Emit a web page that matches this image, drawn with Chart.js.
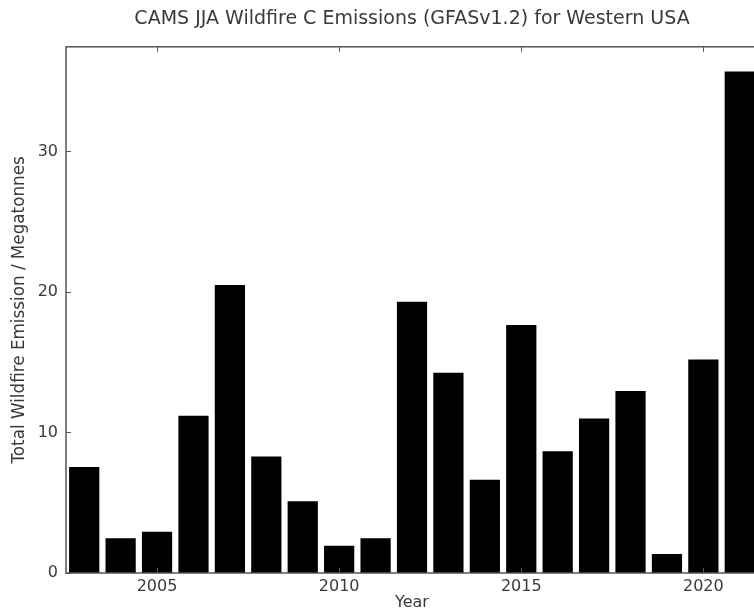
<!DOCTYPE html>
<html>
<head>
<meta charset="utf-8">
<script src="https://cdn.jsdelivr.net/npm/chart.js@4"></script>
<style>
  html, body { margin: 0; padding: 0; background: #fff; overflow: hidden; }
  #wrap { width: 824px; height: 612px; }
</style>
</head>
<body>
<div id="wrap"><canvas id="fireChart"></canvas></div>
<script>
(function () {
  "use strict";

  var years = ["2003", "2004", "2005", "2006", "2007", "2008", "2009", "2010", "2011", "2012",
               "2013", "2014", "2015", "2016", "2017", "2018", "2019", "2020", "2021"];
  var emissions = [7.55, 2.47, 2.94, 11.2, 20.5, 8.3, 5.1, 1.94, 2.47, 19.3,
                   14.25, 6.63, 17.65, 8.67, 11.0, 12.95, 1.35, 15.2, 35.7];
  var xTickYears = ["2005", "2010", "2015", "2020"];
  var yTicks = [0, 10, 20, 30];

  var TEXT = "#3a3a3a";
  var AXIS = "#555";

  // inward tick marks + box frame, like the original plot
  var framePlugin = {
    id: "frame",
    afterDatasetsDraw: function (chart) {
      var ctx = chart.ctx;
      var a = chart.chartArea;
      var xs = chart.scales.x;
      var ys = chart.scales.y;
      ctx.save();
      ctx.strokeStyle = AXIS;
      ctx.lineWidth = 1.5;
      ctx.strokeRect(a.left, a.top, a.right - a.left, a.bottom - a.top);
      ctx.lineWidth = 1;
      ctx.beginPath();
      yTicks.forEach(function (v) {
        var py = Math.round(ys.getPixelForValue(v)) + 0.5;
        ctx.moveTo(a.left, py);
        ctx.lineTo(a.left + 5, py);
      });
      xTickYears.forEach(function (yr) {
        var px = Math.round(xs.getPixelForValue(years.indexOf(yr))) + 0.5;
        ctx.moveTo(px, a.bottom);
        ctx.lineTo(px, a.bottom - 5);
        ctx.moveTo(px, a.top);
        ctx.lineTo(px, a.top + 5);
      });
      ctx.stroke();
      ctx.restore();
    }
  };

  new Chart(document.getElementById("fireChart").getContext("2d"), {
    type: "bar",
    data: {
      labels: years,
      datasets: [{
        data: emissions,
        backgroundColor: "#000",
        borderWidth: 0,
        barPercentage: 0.83,
        categoryPercentage: 1.0
      }]
    },
    options: {
      responsive: true,
      maintainAspectRatio: false,
      animation: false,
      layout: { padding: 0 },
      plugins: {
        legend: { display: false },
        tooltip: { enabled: false },
        title: {
          display: true,
          text: "CAMS JJA Wildfire C Emissions (GFASv1.2) for Western USA",
          color: TEXT,
          font: { family: "DejaVu Sans", size: 19, weight: "normal" },
          padding: { top: 8, bottom: 16 }
        }
      },
      scales: {
        x: {
          offset: true,
          grid: { display: false, drawTicks: false },
          border: { display: false },
          ticks: {
            color: TEXT,
            font: { family: "DejaVu Sans", size: 16 },
            padding: 4,
            maxRotation: 0,
            autoSkip: false,
            callback: function (val, i) {
              var y = years[i];
              return xTickYears.indexOf(y) >= 0 ? y : "";
            }
          },
          title: {
            display: true,
            text: "Year",
            color: TEXT,
            font: { family: "DejaVu Sans", size: 16 },
            padding: { top: 0, bottom: 0 }
          },
          afterFit: function (scale) { scale.height = 39; }
        },
        y: {
          min: 0,
          max: 37.45,
          grid: { display: false, drawTicks: false },
          border: { display: false },
          afterBuildTicks: function (scale) {
            scale.ticks = yTicks.map(function (v) { return { value: v }; });
          },
          ticks: {
            color: TEXT,
            font: { family: "DejaVu Sans", size: 16 },
            padding: 8
          },
          title: {
            display: true,
            text: "Total Wildfire Emission / Megatonnes",
            color: TEXT,
            font: { family: "DejaVu Sans", size: 16.8 },
            padding: { top: 10, bottom: 0 }
          },
          afterFit: function (scale) { scale.width = 66; }
        },
        // empty right-hand box so the title centres over the plot area
        yRight: {
          position: "right",
          grid: { display: false, drawTicks: false },
          border: { display: false },
          ticks: { display: false },
          afterFit: function (scale) { scale.width = 66; }
        }
      }
    },
    plugins: [framePlugin]
  });
})();
</script>
</body>
</html>
